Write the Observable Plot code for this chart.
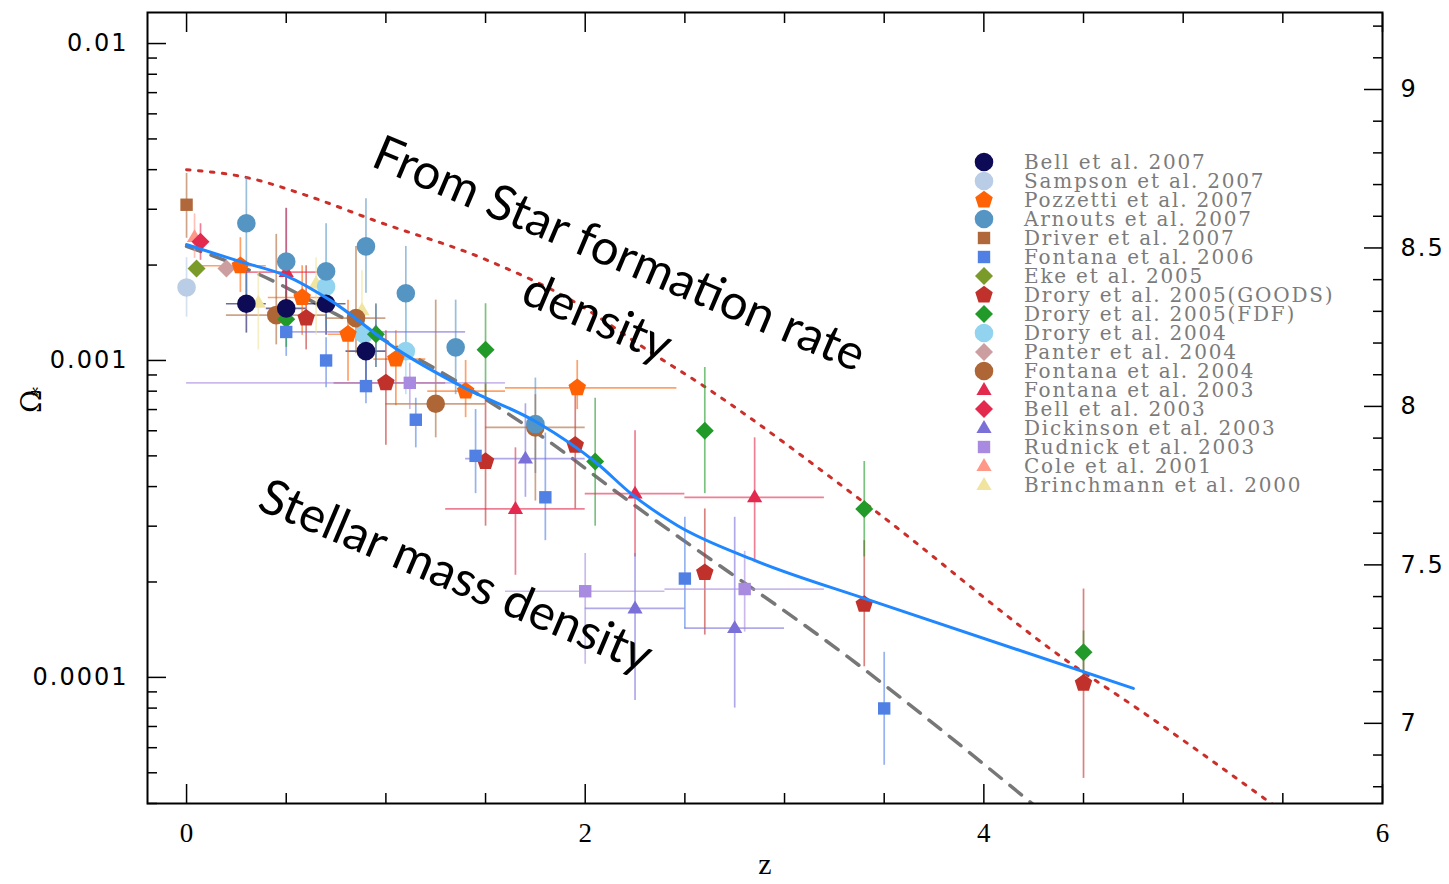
<!DOCTYPE html>
<html>
<head>
<meta charset="utf-8">
<script src="https://cdn.jsdelivr.net/npm/d3@7"></script>
<script src="https://cdn.jsdelivr.net/npm/@observablehq/plot@0.6"></script>
<style>
  html, body { margin: 0; padding: 0; background: #fff; }
  #chart { width: 1449px; height: 884px; }
</style>
</head>
<body>
<div id="chart"></div>
<script>
// Stellar mass density measurements.
// Each row: [z, Ω*, Ω* low, Ω* high, z low, z high]  (null = no error bar)
const bell2007 = [
  [0.30, 0.00151, 0.00122, 0.00192, 0.20, 0.40],
  [0.50, 0.00146, 0.00118, 0.00185, 0.40, 0.60],
  [0.70, 0.00151, 0.00120, 0.00190, 0.60, 0.80],
  [0.90, 0.00107, 0.00085, 0.00124, 0.80, 1.00]
];
const sampson2007 = [
  [0.00, 0.00170, 0.00137, 0.00211, null, null]
];
const pozzetti2007 = [
  [0.27, 0.00199, 0.00164, 0.00244, 0.06, 0.40],
  [0.58, 0.00158, 0.00120, 0.00199, 0.41, 0.68],
  [0.81, 0.00121, 0.00086, 0.00155, 0.71, 0.91],
  [1.05, 0.00101, 0.00072, 0.00124, 0.94, 1.20],
  [1.40, 0.00080, 0.00066, 0.00100, 1.21, 1.60],
  [1.96, 0.00082, 0.00070, 0.00100, 1.60, 2.46]
];
const arnouts2007 = [
  [0.30, 0.00271, 0.00155, 0.00378, null, null],
  [0.50, 0.00205, 0.00144, 0.00302, null, null],
  [0.70, 0.00191, 0.00127, 0.00270, null, null],
  [0.90, 0.00229, 0.00163, 0.00324, null, null],
  [1.10, 0.00163, 0.00112, 0.00229, null, null],
  [1.35, 0.00110, 0.00078, 0.00155, null, null],
  [1.75, 0.00063, 0.00044, 0.00088, null, null]
];
const driver2007 = [
  [0.00, 0.00310, 0.00243, 0.00389, null, null]
];
const fontana2006 = [
  [0.50, 0.00123, 0.00103, 0.00140, null, null],
  [0.70, 0.00100, 0.00082, 0.00118, null, null],
  [0.90, 0.00083, 0.00073, 0.00100, null, null],
  [1.15, 0.00065, 0.00053, 0.00076, null, null],
  [1.45, 0.00050, 0.00038, 0.00070, null, null],
  [1.80, 0.00037, 0.00027, 0.00059, null, null],
  [2.50, 0.000205, 0.000142, 0.00032, null, null],
  [3.50, 0.0000798, 0.0000528, 0.00012, null, null]
];
const eke2005 = [
  [0.05, 0.00195, null, null, null, null]
];
const droryGoods2005 = [
  [0.60, 0.00136, 0.00108, 0.00199, null, null],
  [1.00, 0.00085, 0.00054, 0.00124, 0.74, 1.30],
  [1.50, 0.00048, 0.00030, 0.00085, null, null],
  [1.95, 0.00054, 0.00034, 0.00078, null, null],
  [2.60, 0.000214, 0.000136, 0.00034, null, null],
  [3.40, 0.000170, 0.000108, 0.00027, null, null],
  [4.50, 0.0000958, 0.000048, 0.00019, null, null]
];
const droryFdf2005 = [
  [0.50, 0.00135, 0.00110, 0.00165, null, null],
  [0.95, 0.00121, 0.00095, 0.00151, null, null],
  [1.50, 0.00108, 0.00075, 0.00151, null, null],
  [2.05, 0.00048, 0.00030, 0.00076, null, null],
  [2.60, 0.00060, 0.00038, 0.00095, null, null],
  [3.40, 0.00034, 0.00024, 0.00048, null, null],
  [4.50, 0.00012, 0.00010, 0.00014, null, null]
];
const drory2004 = [
  [0.70, 0.00171, 0.00140, 0.00210, null, null],
  [0.89, 0.00121, 0.00100, 0.00145, null, null],
  [1.10, 0.00107, 0.00078, 0.00144, null, null]
];
const panter2004 = [
  [0.20, 0.00195, null, null, null, null]
];
const fontana2004 = [
  [0.45, 0.00139, 0.00112, 0.00250, 0.20, 0.70],
  [0.85, 0.00136, 0.00105, 0.00229, 0.70, 1.00],
  [1.25, 0.00073, 0.00057, 0.00155, 1.00, 1.50],
  [1.75, 0.000615, 0.00036, 0.00078, 1.50, 2.00]
];
const fontana2003 = [
  [0.50, 0.00190, 0.00125, 0.00302, 0.30, 0.70],
  [1.65, 0.00034, 0.00021, 0.00053, 1.30, 2.00],
  [2.25, 0.00038, 0.00024, 0.00060, 2.00, 2.50],
  [2.85, 0.00037, 0.00023, 0.00057, 2.50, 3.20]
];
const bell2003 = [
  [0.07, 0.00237, 0.00207, 0.00270, null, null]
];
const dickinson2003 = [
  [0.95, 0.00123, 0.00095, 0.00150, 0.50, 1.40],
  [1.70, 0.00049, 0.00037, 0.00073, 1.40, 2.00],
  [2.25, 0.000165, 0.0000846, 0.000246, 2.00, 2.50],
  [2.75, 0.000143, 0.0000800, 0.00032, 2.50, 3.00]
];
const rudnick2003 = [
  [1.12, 0.00085, 0.00070, 0.00098, 0.00, 1.60],
  [2.00, 0.000187, 0.00011, 0.000246, 1.60, 2.40],
  [2.80, 0.00019, 0.000139, 0.00025, 2.40, 3.20]
];
const cole2001 = [
  [0.04, 0.00245, 0.00210, 0.00290, null, null]
];
const brinchmann2000 = [
  [0.36, 0.00152, 0.00108, 0.00190, null, null],
  [0.65, 0.00175, 0.00120, 0.00211, null, null],
  [0.88, 0.00144, 0.00108, 0.00192, null, null]
];

// Study names, symbols and colours, in legend order.
const studies = [
  "Bell et al. 2007", "Sampson et al. 2007", "Pozzetti et al. 2007", "Arnouts et al. 2007",
  "Driver et al. 2007", "Fontana et al. 2006", "Eke et al. 2005", "Drory et al. 2005(GOODS)",
  "Drory et al. 2005(FDF)", "Drory et al. 2004", "Panter et al. 2004", "Fontana et al. 2004",
  "Fontana et al. 2003", "Bell et al. 2003", "Dickinson et al. 2003", "Rudnick et al. 2003",
  "Cole et al. 2001", "Brinchmann et al. 2000"
];
const studyRows = [
  bell2007, sampson2007, pozzetti2007, arnouts2007, driver2007, fontana2006, eke2005,
  droryGoods2005, droryFdf2005, drory2004, panter2004, fontana2004, fontana2003, bell2003,
  dickinson2003, rudnick2003, cole2001, brinchmann2000
];
const studyShapes = [
  "circle", "circle", "pentagon", "circle", "square", "square", "diamond", "pentagon",
  "diamond", "circle", "diamond", "circle", "triangle", "diamond", "triangle", "square",
  "triangle", "triangle"
];
const studyColors = [
  "#0d0b55", "#b9cde6", "#ff6205", "#5595c4", "#b0673a", "#5080e4", "#7a9a2a", "#c0312c",
  "#229a2a", "#92d3ef", "#cc9e9f", "#ae6636", "#e3294d", "#e3294d", "#7b6fd8", "#a88ae0",
  "#ff9888", "#f0e49e"
];

// Star formation history integrated into a stellar mass density (dotted)
const sfrZ = [0, 0.30, 0.60, 0.94, 1.51, 1.93, 2.34, 2.59, 3.40, 4.45, 4.77, 5.44, 5.60];
const sfrOmega = [0.0040, 0.00378, 0.00332, 0.00277, 0.00207, 0.00155, 0.00105, 0.000834,
  0.000356, 0.000109, 0.0000798, 0.0000401, 0.0000339];
// Fit to the data (dashed)
const fitZ = [0, 0.355, 0.74, 1.51, 1.81, 2.18, 3.40, 4.10, 4.40];
const fitOmega = [0.00229, 0.00188, 0.00141, 0.000748, 0.00056, 0.000375, 0.000106,
  0.0000473, 0.0000331];
// Model prediction (solid)
const modelZ = [0, 0.27, 0.50, 0.72, 1.06, 1.39, 1.76, 2.06, 2.23, 2.46, 2.85, 3.43, 4.75];
const modelOmega = [0.00232, 0.00205, 0.00185, 0.00155, 0.00108, 0.000822, 0.000637,
  0.000473, 0.00038, 0.000302, 0.000234, 0.000175, 0.0000923];

// Annotations
const notes = ["From Star formation rate", "density", "Stellar mass density"];
const noteZ = [2.17, 2.06, 1.35];
const noteOmega = [0.00216, 0.00136, 0.000208];

// Axes
const zMajor = [0, 2, 4, 6];
const zMinor = d3.range(0, 13).map(i => i / 2).filter(v => !zMajor.includes(v));
const omegaMajor = [0.0001, 0.001, 0.01];
const omegaMajorLabels = ["0.0001", "0.001", "0.01"];
const omegaMinor = [1e-5, 1e-4, 1e-3].flatMap(d => d3.range(2, 10).map(k => k * d));
const rhoOffset = 11.145; // log10 ρ* = log10 Ω* + offset
const rhoMinor = d3.range(68, 93).map(i => i / 10);
const rhoMajor = [7, 7.5, 8, 8.5, 9];

const omegaDomain = [4.0e-5, 0.01253];
const zDomain = [-0.196, 6];
const toOmega = t => Math.pow(10, t - rhoOffset);

// Marker shapes, sized from the radius r that Plot passes as π r²
const shapes = {
  circle: {draw(c, s) { const r = Math.sqrt(s / Math.PI); c.moveTo(r, 0); c.arc(0, 0, r, 0, 2 * Math.PI); }},
  square: {draw(c, s) { const r = Math.sqrt(s / Math.PI); c.rect(-r, -r, 2 * r, 2 * r); }},
  diamond: {draw(c, s) { const r = Math.sqrt(s / Math.PI); c.moveTo(0, -r); c.lineTo(r, 0); c.lineTo(0, r); c.lineTo(-r, 0); c.closePath(); }},
  triangle: {draw(c, s) { const r = Math.sqrt(s / Math.PI); c.moveTo(0, -r); c.lineTo(r * 0.95, r * 0.62); c.lineTo(-r * 0.95, r * 0.62); c.closePath(); }},
  pentagon: {draw(c, s) {
    const r = Math.sqrt(s / Math.PI);
    for (let k = 0; k < 5; ++k) {
      const a = -Math.PI / 2 + k * 2 * Math.PI / 5;
      const px = r * Math.cos(a), py = r * Math.sin(a);
      if (k === 0) c.moveTo(px, py); else c.lineTo(px, py);
    }
    c.closePath();
  }}
};
const shapeRadius = {circle: 9.3, square: 6.2, diamond: 9, triangle: 8, pentagon: 9.2};

// Build point tables
const tables = studyRows.map((rows, i) => rows.map(([z, omega, lo, hi, zlo, zhi]) =>
  ({study: studies[i], z, omega, lo, hi, zlo, zhi})));

const errorMarks = [];
tables.forEach((t, i) => {
  const color = studyColors[i];
  const v = t.filter(d => d.lo != null);
  const h = t.filter(d => d.zlo != null);
  if (v.length) errorMarks.push(Plot.ruleX(v, {x: "z", y1: "lo", y2: "hi", stroke: color, strokeWidth: 1.7, strokeOpacity: 0.6}));
  if (h.length) errorMarks.push(Plot.ruleY(h, {y: "omega", x1: "zlo", x2: "zhi", stroke: color, strokeWidth: 1.7, strokeOpacity: 0.6}));
});

// Later studies in the legend are drawn underneath earlier ones
const dotMarks = tables.map((t, i) => Plot.dot(t, {
  x: "z", y: "omega",
  symbol: shapes[studyShapes[i]],
  r: shapeRadius[studyShapes[i]],
  fill: studyColors[i],
  stroke: "none"
})).reverse();

const curve = (zs, os) => zs.map((z, i) => ({z, omega: os[i]}));

const plot = Plot.plot({
  width: 1449,
  height: 884,
  marginLeft: 147,
  marginRight: 67,
  marginTop: 12,
  marginBottom: 81,
  style: {fontFamily: "DejaVu Sans", fontSize: "24px", color: "black", background: "white"},
  x: {domain: zDomain},
  y: {type: "log", domain: omegaDomain},
  marks: [
    // model curves
    Plot.line(curve(sfrZ, sfrOmega), {x: "z", y: "omega", curve: "monotone-x", stroke: "#cc2f2a", strokeWidth: 3, strokeDasharray: "3.5 8.5", clip: true}),
    Plot.line(curve(fitZ, fitOmega), {x: "z", y: "omega", curve: "monotone-x", stroke: "#777", strokeWidth: 3.5, strokeDasharray: "15 11", clip: true}),
    ...errorMarks,
    ...dotMarks,
    Plot.line(curve(modelZ, modelOmega), {x: "z", y: "omega", curve: "monotone-x", stroke: "#1f87ff", strokeWidth: 3, clip: true}),

    // annotations
    Plot.text(notes, {x: (d, i) => noteZ[i], y: (d, i) => noteOmega[i], text: d => d, rotate: 23,
      fontFamily: "Lato", fontSize: 49, fill: "black"}),

    // x axes (ticks pointing inwards on top and bottom)
    Plot.axisX(zMajor, {anchor: "bottom", tickSize: -19, tickFormat: () => "", label: null, strokeWidth: 1.5}),
    Plot.axisX(zMinor, {anchor: "bottom", tickSize: -10, tickFormat: () => "", label: null, strokeWidth: 1.5}),
    Plot.axisX(zMajor, {anchor: "top", tickSize: -19, tickFormat: () => "", label: null, strokeWidth: 1.5}),
    Plot.axisX(zMinor, {anchor: "top", tickSize: -10, tickFormat: () => "", label: null, strokeWidth: 1.5}),
    Plot.axisX(zMajor, {anchor: "bottom", tickSize: 0, tickPadding: 19, tickFormat: d => String(d), label: null,
      fontFamily: "Liberation Serif", fontSize: 27}),

    // left axis: Ω*
    Plot.axisY(omegaMajor, {anchor: "left", tickSize: -19, tickFormat: () => "", label: null, strokeWidth: 1.5}),
    Plot.axisY(omegaMinor.filter(d => d >= omegaDomain[0] && d <= omegaDomain[1]), {anchor: "left", tickSize: -10, tickFormat: () => "", label: null, strokeWidth: 1.5}),
    Plot.axisY(omegaMajor, {anchor: "left", tickSize: 0, tickPadding: 19, label: null, fontSize: 24,
      tickFormat: d => omegaMajorLabels[omegaMajor.indexOf(d)]}),

    // right axis: log10 ρ*
    Plot.axisY(rhoMajor.map(toOmega), {anchor: "right", tickSize: -19, tickFormat: () => "", label: null, strokeWidth: 1.5}),
    Plot.axisY(rhoMinor.filter(t => !rhoMajor.includes(t)).map(toOmega), {anchor: "right", tickSize: -10, tickFormat: () => "", label: null, strokeWidth: 1.5}),
    Plot.axisY(rhoMajor.map(toOmega), {anchor: "right", tickSize: 0, tickPadding: 18, textAnchor: "start", label: null, fontSize: 24,
      tickFormat: d => String(Math.round((Math.log10(d) + rhoOffset) * 10) / 10)}),

    // axis titles
    Plot.text(["z"], {frameAnchor: "bottom", dy: 70, fontFamily: "Liberation Serif", fontSize: 30}),
    Plot.text(["Ω"], {frameAnchor: "left", dx: -115, dy: 5, rotate: -90, fontFamily: "DejaVu Serif", fontSize: 28}),
    Plot.text(["*"], {frameAnchor: "left", dx: -108, dy: -12, rotate: -90, fontFamily: "DejaVu Serif", fontSize: 18}),

    Plot.frame({stroke: "black", strokeWidth: 2})
  ]
});

document.getElementById("chart").appendChild(plot);

// Spaced-out tick labels
d3.select(plot).selectAll('g[aria-label="y-axis tick label"] text').style("letter-spacing", "2px");

// Legend
const legend = d3.select(plot).append("g").attr("aria-label", "legend").attr("text-anchor", "start");
studies.forEach((name, i) => {
  const y = 162 + 19 * i;
  const r = shapeRadius[studyShapes[i]];
  legend.append("path")
    .attr("transform", `translate(984,${y})`)
    .attr("d", d3.symbol(shapes[studyShapes[i]], Math.PI * r * r)())
    .attr("fill", studyColors[i]);
  legend.append("text")
    .attr("x", 1024).attr("y", y)
    .attr("dy", "0.36em")
    .attr("text-anchor", "start")
    .attr("fill", "#7b7b7b")
    .style("font-family", "DejaVu Serif")
    .style("font-size", "20px")
    .style("letter-spacing", "1.8px")
    .text(name);
});
</script>
</body>
</html>
